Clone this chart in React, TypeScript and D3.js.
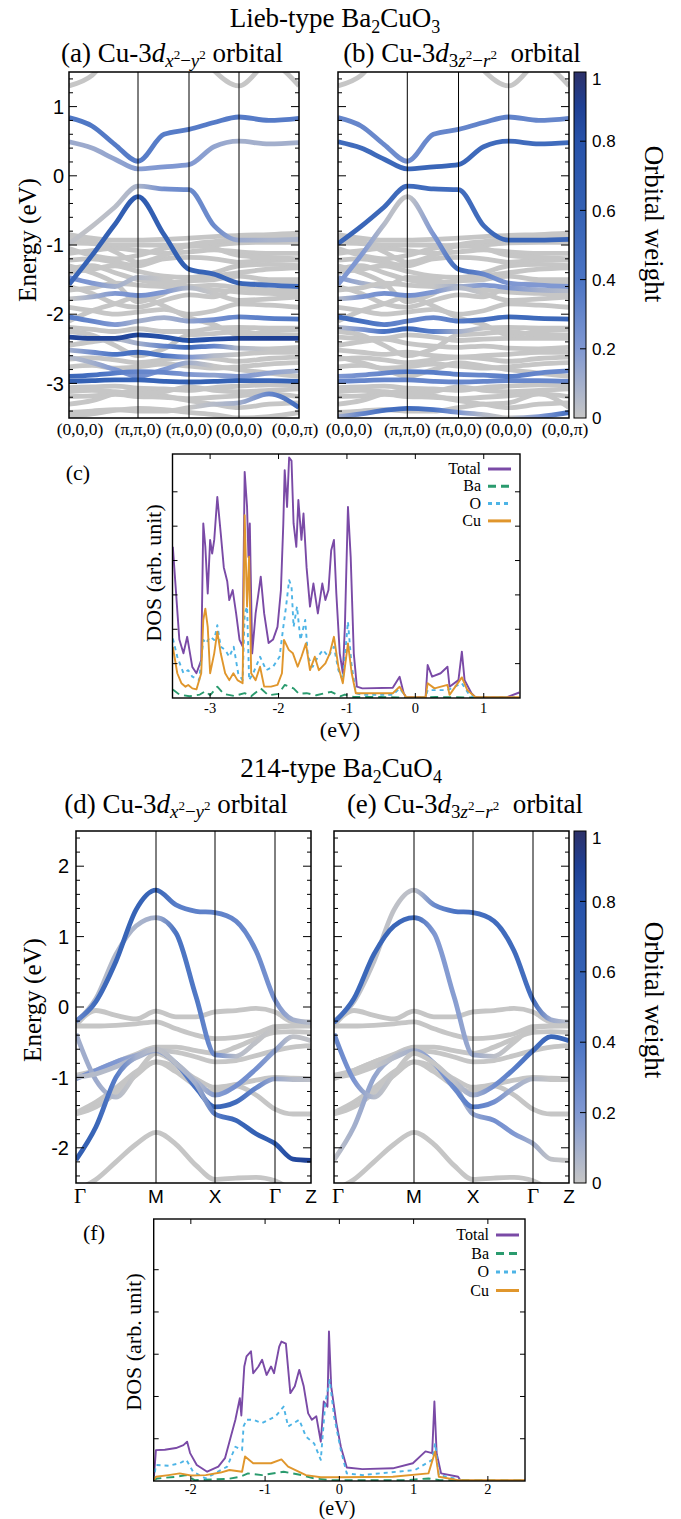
import React from 'react';
import * as d3 from 'd3';

const SERIF = "'Liberation Serif','Times New Roman',serif";
const SANS = "'Liberation Sans',Arial,sans-serif";

// ---- orbital-weight colour map ----
const WEIGHT_STOPS = [0, 0.2, 0.4, 0.6, 0.8, 0.9, 1];
const WEIGHT_COLORS = ['#c6c6c6', '#8098d2', '#4b74c4', '#3461b4', '#2752a9', '#1f4094', '#2c3068'];
const weightColor = d3.scaleLinear<string>().domain(WEIGHT_STOPS).range(WEIGHT_COLORS).clamp(true);
const CBAR_TICKS = [0, 0.2, 0.4, 0.6, 0.8, 1];

// ---- Lieb-type Ba2CuO3 band structure ----
const LIEB_K = [0, 23, 46, 69, 95, 120, 145, 170, 200, 230];
const LIEB_HS = [0, 69, 120, 170, 230];
const LIEB_HS_LABELS = ['(0,0,0)', '(\u03c0,\u03c0,0)', '(\u03c0,0,0)', '(0,0,0)', '(0,0,\u03c0)'];
const LIEB_E_RANGE: [number, number] = [-3.5, 1.5];
const LIEB_Y_TICKS = [-3, -2, -1, 0, 1];

const LIEB_BANDS: number[][] = [
  [1.3, 1.45, 1.85, 2.1, 2.1, 2.0, 1.52, 1.3, 1.62, 1.3],
  [0.84, 0.72, 0.45, 0.21, 0.6, 0.67, 0.77, 0.85, 0.8, 0.83],
  [0.49, 0.4, 0.24, 0.1, 0.13, 0.16, 0.42, 0.5, 0.46, 0.48],
  [-0.98, -0.73, -0.45, -0.15, -0.19, -0.2, -0.72, -0.93, -0.93, -0.92],
  [-1.57, -1.15, -0.7, -0.3, -0.85, -1.35, -1.42, -1.55, -1.58, -1.6],
  [-0.85, -0.9, -0.93, -0.93, -0.92, -0.9, -0.88, -0.86, -0.85, -0.83],
  [-0.97, -0.98, -1.0, -1.0, -1.0, -1.02, -1.0, -0.97, -0.96, -0.96],
  [-1.12, -1.08, -1.05, -1.08, -1.12, -1.1, -1.07, -1.1, -1.12, -1.12],
  [-1.22, -1.2, -1.25, -1.3, -1.2, -1.18, -1.2, -1.25, -1.22, -1.22],
  [-1.4, -1.35, -1.3, -1.38, -1.45, -1.47, -1.4, -1.3, -1.28, -1.3],
  [-1.47, -1.55, -1.6, -1.47, -1.5, -1.6, -1.65, -1.68, -1.7, -1.72],
  [-1.65, -1.62, -1.55, -1.58, -1.6, -1.6, -1.58, -1.62, -1.65, -1.66],
  [-1.78, -1.75, -1.7, -1.73, -1.68, -1.62, -1.7, -1.8, -1.78, -1.75],
  [-1.9, -1.95, -2.0, -1.97, -1.93, -2.0, -1.95, -1.85, -1.87, -1.9],
  [-2.04, -2.1, -2.15, -2.1, -2.05, -2.1, -2.08, -2.04, -2.06, -2.07],
  [-2.19, -2.22, -2.25, -2.21, -2.25, -2.25, -2.2, -2.19, -2.2, -2.2],
  [-2.33, -2.35, -2.35, -2.3, -2.33, -2.38, -2.36, -2.35, -2.35, -2.35],
  [-2.45, -2.4, -2.36, -2.42, -2.46, -2.48, -2.46, -2.49, -2.5, -2.48],
  [-2.52, -2.55, -2.58, -2.55, -2.6, -2.62, -2.6, -2.58, -2.55, -2.55],
  [-2.65, -2.63, -2.66, -2.7, -2.66, -2.62, -2.64, -2.68, -2.64, -2.62],
  [-2.76, -2.74, -2.78, -2.76, -2.72, -2.75, -2.78, -2.76, -2.72, -2.7],
  [-2.9, -2.88, -2.85, -2.83, -2.84, -2.87, -2.88, -2.9, -2.85, -2.82],
  [-2.97, -2.96, -2.95, -2.95, -2.97, -2.98, -2.97, -2.96, -2.96, -2.97],
  [-3.06, -3.05, -3.04, -3.07, -3.08, -3.1, -3.06, -3.04, -3.02, -3.02],
  [-3.19, -3.18, -3.16, -3.19, -3.2, -3.22, -3.2, -3.18, -3.15, -3.19],
  [-3.42, -3.4, -3.38, -3.4, -3.4, -3.35, -3.3, -3.28, -3.15, -3.35],
  [-3.48, -3.44, -3.39, -3.36, -3.38, -3.42, -3.45, -3.5, -3.48, -3.42],
  [-1.3, -1.4, -1.55, -1.82, -1.7, -1.5, -1.45, -1.4, -1.35, -1.33],
  [-2.1, -1.95, -1.85, -1.75, -1.88, -2.05, -2.15, -2.3, -2.25, -2.22],
  [-2.62, -2.7, -2.8, -2.9, -2.8, -2.7, -2.75, -2.8, -2.85, -2.9],
  [-3.3, -3.25, -3.15, -3.1, -3.18, -3.25, -3.3, -3.35, -3.3, -3.28],
  [-1.05, -1.15, -1.2, -1.15, -1.05, -1.0, -1.05, -1.15, -1.18, -1.2],
  [-1.6, -1.7, -1.85, -1.9, -1.8, -1.72, -1.75, -1.6, -1.55, -1.55],
  [-1.35, -1.3, -1.4, -1.5, -1.55, -1.52, -1.5, -1.45, -1.5, -1.5],
  [-2.25, -2.3, -2.45, -2.6, -2.5, -2.3, -2.28, -2.25, -2.3, -2.3],
  [-3.12, -3.1, -3.12, -3.15, -3.12, -3.05, -3.1, -3.12, -3.1, -3.08],
  [-0.9, -0.95, -1.1, -1.25, -1.15, -1.0, -0.95, -0.92, -0.9, -0.9],
];

// Cu-3d(x2-y2) weight per band (bands not listed carry no weight)
const LIEB_W_X2Y2: Record<number, number[]> = {
  1: [0.38, 0.38, 0.36, 0.35, 0.35, 0.36, 0.36, 0.36, 0.36, 0.36],
  2: [0.12, 0.12, 0.15, 0.18, 0.2, 0.2, 0.15, 0.1, 0.1, 0.1],
  3: [0.02, 0.02, 0.04, 0.08, 0.25, 0.28, 0.28, 0.12, 0.08, 0.08],
  4: [0.55, 0.6, 0.62, 0.68, 0.6, 0.6, 0.55, 0.55, 0.45, 0.45],
  10: [0.25, 0.2, 0.1, 0.05, 0, 0, 0, 0, 0, 0],
  12: [0, 0.1, 0.2, 0.25, 0.2, 0.05, 0, 0, 0, 0],
  14: [0.35, 0.3, 0.2, 0.1, 0.1, 0.15, 0.25, 0.3, 0.35, 0.38],
  16: [0.88, 0.88, 0.88, 0.85, 0.8, 0.75, 0.82, 0.88, 0.9, 0.9],
  17: [0, 0, 0.05, 0.1, 0.3, 0.5, 0.3, 0.05, 0, 0],
  18: [0.1, 0.25, 0.4, 0.45, 0.4, 0.2, 0.05, 0, 0, 0],
  21: [0.55, 0.45, 0.35, 0.3, 0.3, 0.2, 0.15, 0.2, 0.15, 0.1],
  22: [0.6, 0.6, 0.58, 0.55, 0.58, 0.6, 0.6, 0.58, 0.55, 0.6],
  25: [0, 0, 0, 0, 0, 0, 0.05, 0.1, 0.3, 0.5],
  29: [0.05, 0.1, 0.2, 0.25, 0.2, 0.1, 0, 0, 0, 0],
};

// Cu-3d(3z2-r2) weight per band
const LIEB_W_3Z2R2: Record<number, number[]> = {
  1: [0.3, 0.3, 0.28, 0.25, 0.3, 0.3, 0.32, 0.32, 0.3, 0.3],
  2: [0.5, 0.5, 0.52, 0.55, 0.55, 0.55, 0.5, 0.5, 0.5, 0.5],
  3: [0.55, 0.55, 0.52, 0.5, 0.5, 0.48, 0.5, 0.55, 0.55, 0.55],
  4: [0.2, 0.2, 0.05, 0, 0.2, 0.5, 0.3, 0.2, 0.2, 0.2],
  10: [0.2, 0.1, 0, 0, 0, 0, 0, 0, 0, 0],
  11: [0, 0, 0, 0, 0, 0.1, 0.2, 0.2, 0.1, 0.05],
  12: [0.05, 0.2, 0.25, 0.25, 0.2, 0.05, 0, 0, 0, 0],
  14: [0.5, 0.45, 0.35, 0.3, 0.3, 0.35, 0.45, 0.5, 0.52, 0.55],
  15: [0.05, 0.2, 0.4, 0.5, 0.35, 0.1, 0, 0, 0, 0],
  21: [0.2, 0.25, 0.3, 0.35, 0.35, 0.3, 0.3, 0.35, 0.3, 0.3],
  22: [0.3, 0.3, 0.3, 0.3, 0.3, 0.3, 0.3, 0.3, 0.3, 0.3],
  26: [0.1, 0.3, 0.45, 0.5, 0.4, 0.2, 0.05, 0, 0.2, 0.45],
};

// ---- 214-type Ba2CuO4 band structure ----
const T214_K = [0, 20, 40, 60, 80, 100, 120, 139, 160, 180, 199, 217, 235];
const T214_HS = [0, 80, 139, 199, 235];
const T214_HS_LABELS = ['\u0393', 'M', 'X', '\u0393', 'Z'];
const T214_E_RANGE: [number, number] = [-2.5, 2.5];
const T214_Y_TICKS = [-2, -1, 0, 1, 2];

const T214_BANDS: number[][] = [
  [-0.2, 0.08, 0.65, 1.38, 1.66, 1.45, 1.36, 1.34, 1.22, 0.8, 0.1, -0.18, -0.22],
  [-0.22, 0.12, 0.75, 1.15, 1.27, 1.05, 0.15, -0.68, -0.7, -0.5, -0.3, -0.27, -0.26],
  [-0.26, -0.05, -0.12, -0.17, -0.06, -0.14, -0.14, -0.07, -0.05, -0.02, -0.07, -0.21, -0.21],
  [-0.27, -0.27, -0.26, -0.24, -0.21, -0.31, -0.4, -0.45, -0.43, -0.38, -0.28, -0.27, -0.27],
  [-0.97, -0.9, -0.78, -0.67, -0.57, -0.57, -0.62, -0.66, -0.57, -0.45, -0.36, -0.35, -0.36],
  [-1.02, -0.9, -0.78, -0.69, -0.62, -0.64, -0.71, -0.78, -0.76, -0.69, -0.62, -0.57, -0.55],
  [-1.52, -1.42, -1.22, -0.97, -0.78, -0.85, -1.02, -1.14, -1.1, -1.04, -1.0, -1.01, -1.02],
  [-0.38, -1.04, -1.28, -0.95, -0.66, -0.8, -1.05, -1.25, -1.12, -0.88, -0.62, -0.42, -0.48],
  [-1.0, -0.95, -0.85, -0.72, -0.62, -0.8, -1.15, -1.42, -1.35, -1.15, -1.02, -1.03, -1.03],
  [-2.17, -1.7, -1.0, -0.71, -0.6, -0.8, -1.09, -1.52, -1.61, -1.8, -1.94, -2.16, -2.18],
  [-1.5, -1.35, -1.15, -0.92, -0.78, -0.92, -1.12, -1.2, -1.12, -1.25, -1.45, -1.52, -1.52],
  [-2.6, -2.45, -2.2, -1.95, -1.78, -1.95, -2.25, -2.45, -2.43, -2.42, -2.47, -2.6, -2.7],
];

const T214_W_X2Y2: Record<number, number[]> = {
  0: [0.3, 0.5, 0.55, 0.58, 0.55, 0.35, 0.33, 0.32, 0.3, 0.28, 0.22, 0.1, 0.05],
  1: [0.05, 0.05, 0.06, 0.08, 0.1, 0.42, 0.38, 0.25, 0.05, 0.02, 0, 0, 0],
  5: [0.22, 0.22, 0.2, 0.12, 0.04, 0, 0, 0, 0, 0, 0, 0, 0],
  7: [0.1, 0.12, 0.05, 0, 0, 0, 0.05, 0.18, 0.25, 0.25, 0.15, 0.02, 0.02],
  8: [0.05, 0.05, 0.05, 0.08, 0.12, 0.3, 0.45, 0.55, 0.5, 0.3, 0.12, 0.05, 0.03],
  9: [0.65, 0.55, 0.35, 0.1, 0.02, 0.05, 0.1, 0.35, 0.55, 0.6, 0.65, 0.85, 0.9],
};

const T214_W_3Z2R2: Record<number, number[]> = {
  0: [0.05, 0.03, 0.02, 0.02, 0.03, 0.28, 0.4, 0.45, 0.48, 0.5, 0.45, 0.12, 0.05],
  1: [0.45, 0.52, 0.55, 0.55, 0.5, 0.2, 0.18, 0.12, 0.03, 0, 0, 0, 0],
  7: [0.3, 0.22, 0.05, 0, 0, 0, 0.02, 0.1, 0.25, 0.35, 0.45, 0.55, 0.55],
  8: [0, 0, 0, 0.05, 0.1, 0.2, 0.28, 0.35, 0.25, 0.1, 0.05, 0, 0],
  9: [0.02, 0.1, 0.15, 0.05, 0, 0, 0.05, 0.15, 0.25, 0.2, 0.1, 0.02, 0],
};

// ---- density of states, Lieb-type (energy eV, DOS) ----
const DOS_C_TOTAL: [number, number][] = [
  [-3.545, 4.4], [-3.51, 3.4], [-3.45, 1.7], [-3.39, 1.3], [-3.335, 1.78], [-3.26, 0.9], [-3.2, 0.72],
  [-3.13, 1.1], [-3.1, 5.08], [-3.07, 4.4], [-3.035, 3.04], [-3.0, 4.6], [-2.97, 4.2], [-2.94, 4.6],
  [-2.895, 5.85], [-2.845, 4.8], [-2.8, 3.8], [-2.75, 3.4], [-2.72, 2.85], [-2.67, 3.14], [-2.62, 2.46],
  [-2.57, 1.69], [-2.525, 1.5], [-2.495, 6.58], [-2.46, 5.56], [-2.44, 4.1], [-2.42, 5.08], [-2.385, 1.3],
  [-2.335, 2.46], [-2.3, 2.95], [-2.26, 3.53], [-2.21, 2.46], [-2.145, 1.6], [-2.08, 1.7], [-2.015, 2.07],
  [-1.965, 3.14], [-1.93, 5.08], [-1.91, 6.63], [-1.875, 5.56], [-1.845, 7.0], [-1.81, 6.9], [-1.78, 5.08],
  [-1.74, 4.4], [-1.71, 5.76], [-1.665, 4.6], [-1.635, 5.37], [-1.59, 3.8], [-1.54, 2.66], [-1.49, 3.33],
  [-1.425, 2.46], [-1.36, 3.33], [-1.315, 2.85], [-1.27, 3.14], [-1.23, 4.3], [-1.19, 4.6], [-1.155, 3.04],
  [-1.105, 1.3], [-1.06, 0.72], [-1.03, 2.07], [-0.985, 5.56], [-0.945, 4.1], [-0.9, 1.3], [-0.855, 0.33],
  [-0.775, 0.28], [-0.33, 0.3], [-0.23, 0.62], [-0.17, 0.14], [-0.135, 0.02], [0.15, 0.02], [0.18, 0.96],
  [0.245, 0.62], [0.37, 0.72], [0.47, 0.91], [0.5, 0.33], [0.63, 0.52], [0.68, 1.35], [0.72, 0.52],
  [0.82, 0.14], [0.88, 0.02], [1.33, 0.02], [1.52, 0.16],
];
const DOS_C_BA: [number, number][] = [
  [-3.545, 0.25], [-3.45, 0.1], [-3.3, 0.05], [-3.15, 0.1], [-3.07, 0.2], [-3.0, 0.08], [-2.895, 0.33],
  [-2.8, 0.12], [-2.65, 0.06], [-2.495, 0.14], [-2.4, 0.05], [-2.26, 0.28], [-2.15, 0.08], [-2.0, 0.12],
  [-1.91, 0.38], [-1.78, 0.28], [-1.7, 0.12], [-1.59, 0.14], [-1.45, 0.08], [-1.23, 0.18], [-1.1, 0.05],
  [-1.03, 0.1], [-0.9, 0.03], [-0.5, 0.03], [0.0, 0.0], [0.3, 0.03], [0.6, 0.02], [1.52, 0.0],
];
const DOS_C_O: [number, number][] = [
  [-3.545, 1.73], [-3.48, 1.2], [-3.39, 0.72], [-3.32, 0.81], [-3.26, 0.62], [-3.16, 0.52], [-3.1, 1.69],
  [-3.06, 1.59], [-3.0, 1.78], [-2.94, 1.69], [-2.895, 2.12], [-2.845, 1.49], [-2.78, 1.4], [-2.72, 1.2],
  [-2.655, 1.49], [-2.59, 0.72], [-2.525, 0.52], [-2.495, 2.46], [-2.46, 2.66], [-2.43, 0.52], [-2.37, 0.72],
  [-2.27, 1.2], [-2.18, 0.81], [-2.08, 0.91], [-1.985, 1.2], [-1.93, 2.07], [-1.89, 2.66], [-1.845, 3.43],
  [-1.81, 3.24], [-1.78, 2.07], [-1.73, 2.66], [-1.68, 1.69], [-1.61, 2.27], [-1.57, 1.2], [-1.5, 0.91],
  [-1.425, 1.2], [-1.35, 1.4], [-1.27, 1.2], [-1.19, 1.49], [-1.125, 0.81], [-1.06, 0.52], [-0.985, 2.22],
  [-0.935, 1.01], [-0.87, 0.14], [-0.775, 0.09], [-0.33, 0.09], [-0.23, 0.28], [-0.135, 0.02], [0.15, 0.02],
  [0.18, 0.23], [0.47, 0.23], [0.68, 0.43], [0.79, 0.09], [0.88, 0.02], [1.52, 0.02],
];
const DOS_C_CU: [number, number][] = [
  [-3.545, 1.49], [-3.48, 0.72], [-3.42, 0.43], [-3.36, 0.33], [-3.32, 0.38], [-3.26, 0.28], [-3.2, 0.25],
  [-3.13, 0.72], [-3.1, 2.27], [-3.07, 2.6], [-3.035, 2.07], [-3.0, 0.72], [-2.94, 1.3], [-2.895, 1.93],
  [-2.845, 1.3], [-2.78, 0.72], [-2.72, 0.52], [-2.66, 0.72], [-2.6, 0.52], [-2.525, 0.43], [-2.495, 5.32],
  [-2.46, 2.66], [-2.43, 4.11], [-2.4, 0.72], [-2.335, 0.52], [-2.27, 0.91], [-2.21, 0.33], [-2.11, 0.33],
  [-2.015, 0.38], [-1.95, 0.72], [-1.92, 1.69], [-1.85, 1.4], [-1.79, 1.3], [-1.72, 0.91], [-1.665, 1.2],
  [-1.6, 1.59], [-1.54, 0.81], [-1.47, 1.2], [-1.41, 0.81], [-1.315, 1.01], [-1.25, 1.3], [-1.19, 1.78],
  [-1.125, 0.91], [-1.06, 0.43], [-0.985, 1.59], [-0.93, 0.72], [-0.87, 0.14], [-0.775, 0.14], [-0.33, 0.14],
  [-0.23, 0.33], [-0.135, 0.02], [0.15, 0.02], [0.18, 0.43], [0.28, 0.28], [0.47, 0.38], [0.5, 0.09],
  [0.68, 0.6], [0.76, 0.23], [0.88, 0.02], [1.52, 0.02],
];

// ---- density of states, 214-type ----
const DOS_F_TOTAL: [number, number][] = [
  [-2.5, 0.02], [-2.47, 0.73], [-2.35, 0.74], [-2.2, 0.78], [-2.1, 0.85], [-2.05, 0.93], [-2.01, 0.66],
  [-1.92, 0.38], [-1.78, 0.22], [-1.63, 0.34], [-1.54, 0.54], [-1.48, 0.93], [-1.4, 1.45], [-1.34, 1.96],
  [-1.32, 1.55], [-1.28, 2.71], [-1.25, 2.95], [-1.19, 3.07], [-1.16, 2.55], [-1.09, 2.71], [-1.04, 2.87],
  [-0.98, 2.51], [-0.92, 2.71], [-0.88, 2.55], [-0.81, 3.18], [-0.78, 3.3], [-0.72, 3.25], [-0.66, 2.08],
  [-0.6, 2.24], [-0.54, 2.63], [-0.48, 2.24], [-0.42, 1.6], [-0.37, 1.45], [-0.31, 1.53], [-0.25, 0.93],
  [-0.21, 1.88], [-0.16, 1.76], [-0.14, 3.54], [-0.11, 2.24], [-0.04, 1.37], [0.02, 0.81], [0.1, 0.32],
  [0.31, 0.28], [0.72, 0.3], [0.99, 0.42], [1.16, 0.7], [1.25, 0.66], [1.28, 1.88], [1.31, 0.66],
  [1.37, 0.18], [1.6, 0.1], [1.63, 0.01], [2.5, 0.01],
];
const DOS_F_BA: [number, number][] = [
  [-2.5, 0.02], [-2.45, 0.06], [-2.2, 0.1], [-2.06, 0.14], [-1.95, 0.02], [-1.5, 0.05], [-1.34, 0.1],
  [-1.23, 0.18], [-1.04, 0.14], [-0.75, 0.22], [-0.51, 0.14], [-0.34, 0.06], [-0.1, 0.02], [0.9, 0.02],
  [1.2, 0.06], [1.35, 0.02], [2.5, 0.01],
];
const DOS_F_O: [number, number][] = [
  [-2.5, 0.02], [-2.47, 0.38], [-2.3, 0.36], [-2.15, 0.42], [-2.06, 0.5], [-1.97, 0.22], [-1.8, 0.06],
  [-1.51, 0.34], [-1.4, 0.81], [-1.31, 0.73], [-1.29, 1.29], [-1.25, 1.45], [-1.16, 1.45], [-1.04, 1.37],
  [-0.95, 1.45], [-0.86, 1.53], [-0.75, 1.76], [-0.69, 1.29], [-0.54, 1.45], [-0.45, 1.05], [-0.34, 0.89],
  [-0.25, 0.5], [-0.19, 1.84], [-0.13, 2.39], [-0.07, 1.52], [0.02, 0.73], [0.1, 0.18], [0.31, 0.14],
  [1.02, 0.26], [1.25, 0.5], [1.29, 0.89], [1.34, 0.14], [1.6, 0.04], [1.65, 0.0], [2.5, 0.0],
];
const DOS_F_CU: [number, number][] = [
  [-2.5, 0.02], [-2.47, 0.1], [-2.3, 0.14], [-2.15, 0.18], [-2.0, 0.13], [-1.8, 0.14], [-1.6, 0.2],
  [-1.48, 0.26], [-1.31, 0.22], [-1.27, 0.58], [-1.16, 0.42], [-0.92, 0.42], [-0.78, 0.51], [-0.69, 0.34],
  [-0.45, 0.14], [-0.25, 0.09], [0.02, 0.09], [0.72, 0.1], [1.2, 0.18], [1.29, 0.7], [1.34, 0.1],
  [1.6, 0.02], [2.5, 0.02],
];

const DOS_LABELS = ['Total', 'Ba', 'O', 'Cu'];
const DOS_COLORS = ['#7a4aa6', '#2a9b6e', '#4db4e6', '#e0962c'];
const DOS_DASHES = ['', '8,5', '4,4', ''];
const DOS_C_X_TICKS = [-3, -2, -1, 0, 1];
const DOS_F_X_TICKS = [-2, -1, 0, 1, 2];

// ---------------------------------------------------------------------------

type BandPanelProps = {
  id: string;
  x0: number; x1: number; y0: number; y1: number;
  kSamples: number[]; hs: number[]; hsLabels: string[];
  eRange: [number, number];
  bands: number[][];
  weights: Record<number, number[]>;
  yTicks: number[];
  yLabels: boolean;
  labelStyle: 'lieb' | 'sym';
  labelY: number;
  yLabelX: number;
};

function BandPanel(p: BandPanelProps) {
  const kMax = p.hs[p.hs.length - 1];
  const xs = d3.scaleLinear().domain([0, kMax]).range([p.x0, p.x1]);
  const ys = d3.scaleLinear().domain(p.eRange).range([p.y1, p.y0]);
  const line = d3.line<number>()
    .x((_, i) => xs(p.kSamples[i]))
    .y((e) => ys(e))
    .curve(d3.curveMonotoneX);
  const maxW = (i: number) => (p.weights[i] ? (d3.max(p.weights[i]) as number) : 0);
  const order = p.bands.map((_, i) => i).sort((a, b) => maxW(a) - maxW(b));
  const minor = d3.range(Math.ceil(p.eRange[0] / 0.2), Math.floor(p.eRange[1] / 0.2) + 1).map((v) => v * 0.2);

  return (
    <g>
      <defs>
        <clipPath id={`${p.id}-clip`}>
          <rect x={p.x0} y={p.y0} width={p.x1 - p.x0} height={p.y1 - p.y0} />
        </clipPath>
        {order.filter((i) => p.weights[i]).map((i) => (
          <linearGradient key={i} id={`${p.id}-g${i}`} gradientUnits="userSpaceOnUse"
            x1={xs(0)} x2={xs(kMax)} y1={0} y2={0}>
            {p.kSamples.map((k, j) => (
              <stop key={j} offset={k / kMax} stopColor={weightColor(p.weights[i][j])} />
            ))}
          </linearGradient>
        ))}
      </defs>
      <g clipPath={`url(#${p.id}-clip)`}>
        {order.map((i) => (
          <path key={i} d={line(p.bands[i]) || ''} fill="none"
            stroke={p.weights[i] ? `url(#${p.id}-g${i})` : weightColor(0)}
            strokeWidth={4.8} />
        ))}
      </g>
      {p.hs.slice(1, -1).map((k, i) => (
        <line key={i} x1={xs(k)} x2={xs(k)} y1={p.y0} y2={p.y1} stroke="#000" strokeWidth={1} />
      ))}
      {minor.map((v, i) => {
        const major = Math.abs(v - Math.round(v)) < 1e-6;
        const len = major ? 8 : 4;
        const y = ys(v);
        return (
          <g key={i} stroke="#000" strokeWidth={1}>
            <line x1={p.x0} x2={p.x0 + len} y1={y} y2={y} />
            <line x1={p.x1} x2={p.x1 - len} y1={y} y2={y} />
          </g>
        );
      })}
      <rect x={p.x0} y={p.y0} width={p.x1 - p.x0} height={p.y1 - p.y0} fill="none" stroke="#000" strokeWidth={1.5} />
      {p.yLabels && p.yTicks.map((v) => (
        <text key={v} x={p.yLabelX} y={ys(v)} dy="0.36em" textAnchor="end" fontFamily={SANS} fontSize={20}>
          {String(v)}
        </text>
      ))}
      {p.hs.map((k, i) => {
        const last = i === p.hs.length - 1;
        if (p.labelStyle === 'lieb') {
          const x = i === 0 ? xs(k) + 11 : last ? xs(k) - 4 : xs(k);
          return (
            <text key={i} x={x} y={p.labelY} textAnchor="middle" fontFamily={SERIF} fontSize={17.5}>
              {p.hsLabels[i]}
            </text>
          );
        }
        const x = i === 0 ? xs(k) + 4 : xs(k);
        const isGamma = p.hsLabels[i] === '\u0393';
        return (
          <text key={i} x={x} y={p.labelY} textAnchor="middle"
            fontFamily={isGamma ? SERIF : SANS} fontSize={isGamma ? 21 : 19}>
            {p.hsLabels[i]}
          </text>
        );
      })}
    </g>
  );
}

function Colorbar({ id, x, y0, y1, titleY }: { id: string; x: number; y0: number; y1: number; titleY: number }) {
  const w = 12;
  const ys = d3.scaleLinear().domain([0, 1]).range([y1, y0]);
  return (
    <g>
      <defs>
        <linearGradient id={id} x1={0} x2={0} y1={1} y2={0}>
          {WEIGHT_STOPS.map((s, i) => (
            <stop key={i} offset={s} stopColor={WEIGHT_COLORS[i]} />
          ))}
        </linearGradient>
      </defs>
      <rect x={x} y={y0} width={w} height={y1 - y0} fill={`url(#${id})`} stroke="#000" strokeWidth={1} />
      {CBAR_TICKS.map((t) => (
        <g key={t}>
          {t > 0 && t < 1 && (
            <line x1={x + w - 6} x2={x + w} y1={ys(t)} y2={ys(t)} stroke="#000" strokeWidth={1} />
          )}
          <text x={x + w + 6} y={ys(t) + (t === 1 ? 7 : 0)} dy="0.36em" fontFamily={SANS} fontSize={17}>
            {String(t)}
          </text>
        </g>
      ))}
      <text transform={`translate(645,${titleY}) rotate(90)`} textAnchor="middle" fontFamily={SERIF} fontSize={27}>
        Orbital weight
      </text>
    </g>
  );
}

function OrbitalTitle({ x, y, tag, orbital }: { x: number; y: number; tag: string; orbital: 'x2y2' | '3z2r2' }) {
  const sub = 19;
  const sup = 13;
  return (
    <text x={x} y={y} textAnchor="middle" fontFamily={SERIF} fontSize={27}>
      <tspan>{`(${tag}) Cu-3`}</tspan>
      <tspan fontStyle="italic">d</tspan>
      {orbital === 'x2y2' ? (
        <>
          <tspan fontStyle="italic" fontSize={sub} dy={5}>x</tspan>
          <tspan fontSize={sup} dy={-8}>2</tspan>
          <tspan fontSize={sub} dy={8}>{'\u2212'}</tspan>
          <tspan fontStyle="italic" fontSize={sub}>y</tspan>
          <tspan fontSize={sup} dy={-8}>2</tspan>
          <tspan dy={3}>{'\u00a0orbital'}</tspan>
        </>
      ) : (
        <>
          <tspan fontSize={sub} dy={5}>3</tspan>
          <tspan fontStyle="italic" fontSize={sub}>z</tspan>
          <tspan fontSize={sup} dy={-8}>2</tspan>
          <tspan fontSize={sub} dy={8}>{'\u2212'}</tspan>
          <tspan fontStyle="italic" fontSize={sub}>r</tspan>
          <tspan fontSize={sup} dy={-8}>2</tspan>
          <tspan dy={3}>{'\u00a0\u00a0orbital'}</tspan>
        </>
      )}
    </text>
  );
}

type DosProps = {
  id: string;
  x0: number; x1: number; y0: number; y1: number;
  xDomain: [number, number]; yMax: number;
  xTicks: number[]; yTicks: number[];
  series: [number, number][][];
  legendX: number; legendY: number; legendDy: number;
  tickLabelY: number;
  unitX: number; unitY: number; unitSize: number;
  tagX: number; tagY: number; tag: string;
  dosLabelX: number; dosLabelY: number;
};

function DosPanel(p: DosProps) {
  const xs = d3.scaleLinear().domain(p.xDomain).range([p.x0, p.x1]);
  const ys = d3.scaleLinear().domain([0, p.yMax]).range([p.y1, p.y0]);
  const line = d3.line<[number, number]>().x((d) => xs(d[0])).y((d) => ys(d[1]));
  return (
    <g>
      <defs>
        <clipPath id={`${p.id}-clip`}>
          <rect x={p.x0} y={p.y0} width={p.x1 - p.x0} height={p.y1 - p.y0} />
        </clipPath>
      </defs>
      <g clipPath={`url(#${p.id}-clip)`}>
        {p.series.map((s, i) => (
          <path key={i} d={line(s) || ''} fill="none" stroke={DOS_COLORS[i]} strokeWidth={1.9}
            strokeDasharray={DOS_DASHES[i] || undefined} strokeLinejoin="round" />
        ))}
      </g>
      <rect x={p.x0} y={p.y0} width={p.x1 - p.x0} height={p.y1 - p.y0} fill="none" stroke="#000" strokeWidth={1.4} />
      {p.xTicks.map((t) => (
        <g key={t}>
          <line x1={xs(t)} x2={xs(t)} y1={p.y1} y2={p.y1 - 5} stroke="#000" strokeWidth={1} />
          <line x1={xs(t)} x2={xs(t)} y1={p.y0} y2={p.y0 + 5} stroke="#000" strokeWidth={1} />
          <text x={xs(t)} y={p.tickLabelY} textAnchor="middle" fontFamily={SERIF} fontSize={14.5}>
            {String(t)}
          </text>
        </g>
      ))}
      {p.yTicks.map((t) => (
        <g key={t}>
          <line x1={p.x0} x2={p.x0 + 5} y1={ys(t)} y2={ys(t)} stroke="#000" strokeWidth={1} />
          <line x1={p.x1} x2={p.x1 - 5} y1={ys(t)} y2={ys(t)} stroke="#000" strokeWidth={1} />
        </g>
      ))}
      {DOS_LABELS.map((lab, i) => {
        const y = p.legendY + i * p.legendDy;
        return (
          <g key={lab}>
            <text x={p.legendX} y={y} textAnchor="end" fontFamily={SERIF} fontSize={16}>{lab}</text>
            <line x1={p.legendX + 7} x2={p.legendX + 30} y1={y - 5} y2={y - 5} stroke={DOS_COLORS[i]}
              strokeWidth={3} strokeDasharray={DOS_DASHES[i] || undefined} />
          </g>
        );
      })}
      <text x={p.unitX} y={p.unitY} textAnchor="middle" fontFamily={SERIF} fontSize={p.unitSize}>(eV)</text>
      <text x={p.tagX} y={p.tagY} textAnchor="middle" fontFamily={SERIF} fontSize={22}>{p.tag}</text>
      <text transform={`translate(${p.dosLabelX},${p.dosLabelY}) rotate(-90)`} textAnchor="middle"
        fontFamily={SERIF} fontSize={22}>DOS (arb. unit)</text>
    </g>
  );
}

export default function App() {
  return (
    <svg width={681} height={1519} viewBox="0 0 681 1519"
      style={{ position: 'absolute', left: 0, top: 0, display: 'block', background: '#fff' }}>
      <rect width={681} height={1519} fill="#fff" />

      {/* Lieb-type Ba2CuO3 */}
      <text x={335} y={27} textAnchor="middle" fontFamily={SERIF} fontSize={27}>
        Lieb-type Ba<tspan fontSize={18} dy={6}>2</tspan><tspan dy={-6}>CuO</tspan>
        <tspan fontSize={18} dy={6}>3</tspan>
      </text>
      <OrbitalTitle x={172} y={62} tag="a" orbital="x2y2" />
      <OrbitalTitle x={462} y={62} tag="b" orbital="3z2r2" />
      <BandPanel id="pa" x0={69} x1={299} y0={72} y1={418} kSamples={LIEB_K} hs={LIEB_HS}
        hsLabels={LIEB_HS_LABELS} eRange={LIEB_E_RANGE} bands={LIEB_BANDS} weights={LIEB_W_X2Y2}
        yTicks={LIEB_Y_TICKS} yLabels={true} labelStyle="lieb" labelY={435} yLabelX={64} />
      <BandPanel id="pb" x0={338} x1={569} y0={72} y1={418} kSamples={LIEB_K} hs={LIEB_HS}
        hsLabels={LIEB_HS_LABELS} eRange={LIEB_E_RANGE} bands={LIEB_BANDS} weights={LIEB_W_3Z2R2}
        yTicks={LIEB_Y_TICKS} yLabels={false} labelStyle="lieb" labelY={435} yLabelX={0} />
      <text transform="translate(36,240) rotate(-90)" textAnchor="middle" fontFamily={SERIF} fontSize={25}>
        Energy (eV)
      </text>
      <Colorbar id="cb1" x={574} y0={72} y1={418} titleY={224} />

      <DosPanel id="pc" x0={172.5} x1={520} y0={454} y1={698} xDomain={[-3.55, 1.53]} yMax={7.1}
        xTicks={DOS_C_X_TICKS} yTicks={[1, 2, 3, 4, 5, 6]}
        series={[DOS_C_TOTAL, DOS_C_BA, DOS_C_O, DOS_C_CU]}
        legendX={481} legendY={474} legendDy={17.3} tickLabelY={713}
        unitX={340} unitY={737} unitSize={22} tagX={78} tagY={480} tag="(c)" dosLabelX={161} dosLabelY={573} />

      {/* 214-type Ba2CuO4 */}
      <text x={341} y={777} textAnchor="middle" fontFamily={SERIF} fontSize={27}>
        214-type Ba<tspan fontSize={18} dy={6}>2</tspan><tspan dy={-6}>CuO</tspan>
        <tspan fontSize={18} dy={6}>4</tspan>
      </text>
      <OrbitalTitle x={176} y={813} tag="d" orbital="x2y2" />
      <OrbitalTitle x={465} y={813} tag="e" orbital="3z2r2" />
      <BandPanel id="pd" x0={76} x1={311} y0={831} y1={1183} kSamples={T214_K} hs={T214_HS}
        hsLabels={T214_HS_LABELS} eRange={T214_E_RANGE} bands={T214_BANDS} weights={T214_W_X2Y2}
        yTicks={T214_Y_TICKS} yLabels={true} labelStyle="sym" labelY={1203} yLabelX={69} />
      <BandPanel id="pe" x0={334} x1={569} y0={831} y1={1183} kSamples={T214_K} hs={T214_HS}
        hsLabels={T214_HS_LABELS} eRange={T214_E_RANGE} bands={T214_BANDS} weights={T214_W_3Z2R2}
        yTicks={T214_Y_TICKS} yLabels={false} labelStyle="sym" labelY={1203} yLabelX={0} />
      <text transform="translate(41,1000) rotate(-90)" textAnchor="middle" fontFamily={SERIF} fontSize={25}>
        Energy (eV)
      </text>
      <Colorbar id="cb2" x={574} y0={831} y1={1183} titleY={1000} />

      <DosPanel id="pf" x0={153.7} x1={525} y0={1219} y1={1481} xDomain={[-2.5, 2.5]} yMax={6.2}
        xTicks={DOS_F_X_TICKS} yTicks={[1, 2, 3, 4, 5]}
        series={[DOS_F_TOTAL, DOS_F_BA, DOS_F_O, DOS_F_CU]}
        legendX={489} legendY={1240} legendDy={18.5} tickLabelY={1494}
        unitX={337} unitY={1515} unitSize={20} tagX={94} tagY={1240} tag="(f)" dosLabelX={141} dosLabelY={1342} />
    </svg>
  );
}
